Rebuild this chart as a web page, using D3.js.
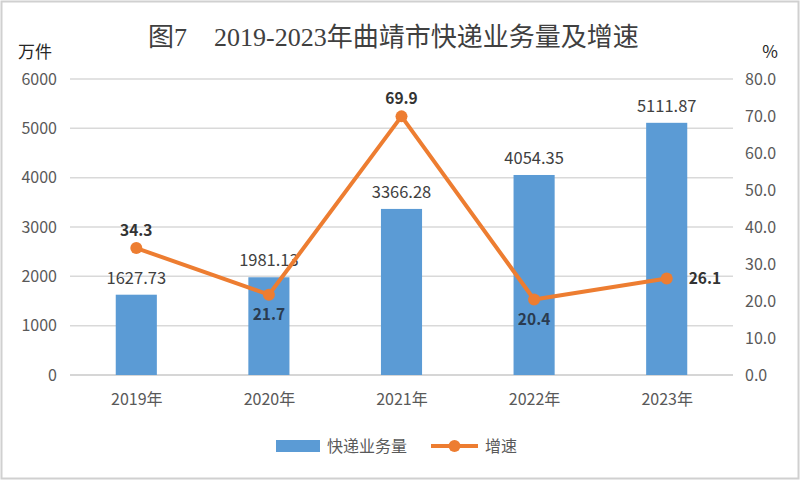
<!DOCTYPE html>
<html>
<head>
<meta charset="utf-8">
<script src="https://cdn.jsdelivr.net/npm/d3@7"></script>
<style>
  html, body { margin: 0; padding: 0; background: #fff; }
  svg { display: block; }
</style>
</head>
<body>
<svg id="chart" width="800" height="480"></svg>
<script>
// chart data
const years = ['2019年', '2020年', '2021年', '2022年', '2023年'];
const volume = [1627.73, 1981.13, 3366.28, 4054.35, 5111.87];
const growth = [34.3, 21.7, 69.9, 20.4, 26.1];
const leftTicks = [0, 1000, 2000, 3000, 4000, 5000, 6000];
const rightTicks = [0, 10, 20, 30, 40, 50, 60, 70, 80];
// where each growth label sits relative to its point
const growthLabelPos = ['above', 'below', 'above', 'below', 'right'];

const BLUE = '#5b9bd5';
const ORANGE = '#ed7d31';
const sans = '"Microsoft YaHei", "Noto Sans CJK SC", "Noto Sans", sans-serif';
const serif = '"Liberation Serif", "DejaVu Serif", "Noto Sans CJK SC", serif';

const svg = d3.select('#chart');
const width = 800, height = 480;
const margin = { top: 79, right: 67, bottom: 105, left: 70 };
const innerW = width - margin.left - margin.right;
const innerH = height - margin.top - margin.bottom;

// outer frame
svg.append('rect')
    .attr('x', 1.5).attr('y', 1.5)
    .attr('width', width - 3).attr('height', height - 3)
    .attr('fill', '#fff')
    .attr('stroke', '#d0d0d0')
    .attr('stroke-width', 2);

const g = svg.append('g')
    .attr('transform', `translate(${margin.left},${margin.top})`);

const x = d3.scaleBand()
    .domain(years)
    .range([0, innerW])
    .paddingInner(0.69)
    .paddingOuter(0.345);

const xc = d3.scalePoint()
    .domain(years)
    .range([0, innerW])
    .padding(0.5);

const yL = d3.scaleLinear().domain([0, 6000]).range([innerH, 0]);
const yR = d3.scaleLinear().domain([0, 80]).range([innerH, 0]);

// gridlines
g.append('g')
    .selectAll('line')
    .data(leftTicks)
    .join('line')
    .attr('x1', 0).attr('x2', innerW)
    .attr('y1', d => yL(d)).attr('y2', d => yL(d))
    .attr('stroke', d => d === 0 ? '#c8c8c8' : '#d9d9d9')
    .attr('stroke-width', 1.5);

// left axis
const leftAxis = g.append('g')
    .call(d3.axisLeft(yL).tickValues(leftTicks).tickSize(0).tickPadding(13)
        .tickFormat(d3.format('d')));
leftAxis.select('.domain').remove();
leftAxis.selectAll('text')
    .attr('font-family', sans)
    .attr('font-size', 16)
    .attr('fill', '#595959');

// right axis
const rightAxis = g.append('g')
    .attr('transform', `translate(${innerW},0)`)
    .call(d3.axisRight(yR).tickValues(rightTicks).tickSize(0).tickPadding(12)
        .tickFormat(d3.format('.1f')));
rightAxis.select('.domain').remove();
rightAxis.selectAll('text')
    .attr('font-family', sans)
    .attr('font-size', 16)
    .attr('fill', '#595959');

// bottom axis
const bottomAxis = g.append('g')
    .attr('transform', `translate(0,${innerH})`)
    .call(d3.axisBottom(xc).tickSize(0).tickPadding(19));
bottomAxis.select('.domain').remove();
bottomAxis.selectAll('text')
    .attr('font-family', sans)
    .attr('font-size', 16)
    .attr('fill', '#595959');

// bars
g.append('g')
    .selectAll('rect')
    .data(volume)
    .join('rect')
    .attr('x', (d, i) => x(years[i]))
    .attr('y', d => yL(d))
    .attr('width', x.bandwidth())
    .attr('height', d => innerH - yL(d))
    .attr('fill', BLUE);

// bar labels
g.append('g')
    .selectAll('text')
    .data(volume)
    .join('text')
    .attr('x', (d, i) => xc(years[i]))
    .attr('y', d => yL(d) - 11)
    .attr('text-anchor', 'middle')
    .attr('font-family', sans)
    .attr('font-size', 16.5)
    .attr('fill', '#404040')
    .text(d => d.toFixed(2));

// growth line
const line = d3.line()
    .x((d, i) => xc(years[i]))
    .y(d => yR(d));

g.append('path')
    .datum(growth)
    .attr('d', line)
    .attr('fill', 'none')
    .attr('stroke', ORANGE)
    .attr('stroke-width', 4)
    .attr('stroke-linejoin', 'round');

g.append('g')
    .selectAll('circle')
    .data(growth)
    .join('circle')
    .attr('cx', (d, i) => xc(years[i]))
    .attr('cy', d => yR(d))
    .attr('r', 6)
    .attr('fill', ORANGE);

// growth labels
g.append('g')
    .selectAll('text')
    .data(growth)
    .join('text')
    .attr('x', (d, i) => growthLabelPos[i] === 'right' ? xc(years[i]) + 22 : xc(years[i]))
    .attr('y', (d, i) => {
        const p = growthLabelPos[i];
        if (p === 'above') return yR(d) - 12;
        if (p === 'below') return yR(d) + 25;
        return yR(d) + 6;
    })
    .attr('text-anchor', (d, i) => growthLabelPos[i] === 'right' ? 'start' : 'middle')
    .attr('font-family', sans)
    .attr('font-size', 15.5)
    .attr('font-weight', 'bold')
    .attr('fill', (d, i) => growthLabelPos[i] === 'below' ? '#2a3b50' : '#333')
    .text(d => d.toFixed(1));

// title
const title = svg.append('text')
    .attr('x', 148)
    .attr('y', 46)
    .attr('font-family', serif)
    .attr('font-size', 26)
    .attr('fill', '#404040');
title.append('tspan').text('图7');
title.append('tspan').attr('dx', 27).text('2019-2023年曲靖市快递业务量及增速');

// axis unit labels
svg.append('text')
    .attr('x', 18).attr('y', 58)
    .attr('font-family', sans)
    .attr('font-size', 17)
    .attr('fill', '#262626')
    .text('万件');

svg.append('text')
    .attr('x', 770).attr('y', 58)
    .attr('text-anchor', 'middle')
    .attr('font-family', sans)
    .attr('font-size', 17)
    .attr('fill', '#262626')
    .text('%');

// legend
const legend = svg.append('g').attr('transform', 'translate(0,446)');
legend.append('rect')
    .attr('x', 276).attr('y', -6)
    .attr('width', 44).attr('height', 12)
    .attr('fill', BLUE);
legend.append('text')
    .attr('x', 327).attr('y', 6)
    .attr('font-family', sans)
    .attr('font-size', 16)
    .attr('fill', '#595959')
    .text('快递业务量');
legend.append('line')
    .attr('x1', 431).attr('x2', 478)
    .attr('y1', 0).attr('y2', 0)
    .attr('stroke', ORANGE)
    .attr('stroke-width', 4);
legend.append('circle')
    .attr('cx', 454.5).attr('cy', 0)
    .attr('r', 6)
    .attr('fill', ORANGE);
legend.append('text')
    .attr('x', 485).attr('y', 6)
    .attr('font-family', sans)
    .attr('font-size', 16)
    .attr('fill', '#595959')
    .text('增速');
</script>
</body>
</html>
